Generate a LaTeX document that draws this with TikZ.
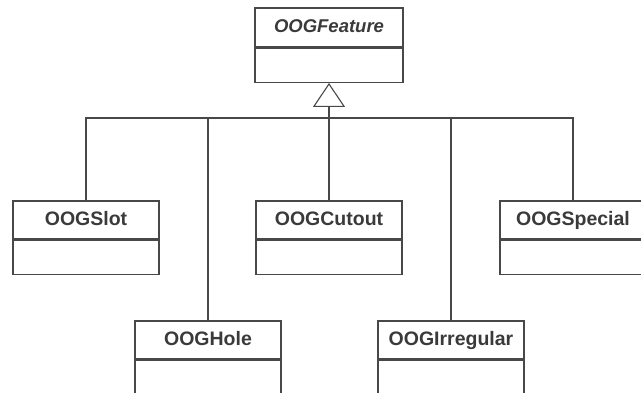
\documentclass[tikz,border=0pt]{standalone}
\usepackage{fontspec}
\setmainfont{Liberation Sans}
\usetikzlibrary{positioning,arrows.meta}
\definecolor{umlline}{HTML}{484848}
\definecolor{umltext}{HTML}{3A3A3A}

\tikzset{
  classname/.style={draw=umlline,line width=1.3pt,minimum width=146pt,minimum height=38pt,
    inner sep=0pt,text height=13.5pt,text depth=3pt,text=umltext,
    font=\fontsize{19.5}{21}\selectfont\bfseries},
  classbody/.style={draw=umlline,line width=1.3pt,minimum width=146pt,minimum height=34pt,inner sep=0pt},
  link/.style={draw=umlline,line width=1.1pt}
}

\begin{document}
\begin{tikzpicture}[x=1pt,y=-1pt]
        \useasboundingbox (0,0) rectangle (641,392);
        % abstract base class
        \node[classname,minimum width=148pt,minimum height=39pt,font=\fontsize{18.5}{20}\selectfont\bfseries\itshape] (feature) at (329,27.5) {OOGFeature};
        \node[classbody,minimum width=148pt,below=0pt of feature] (featurebody) {};
        % subclasses
        \node[classname] (slot) at (86,220) {OOGSlot};
        \node[classbody,below=0pt of slot] (slotbody) {};
        \node[classname] (cutout) at (329,220) {OOGCutout};
        \node[classbody,below=0pt of cutout] (cutoutbody) {};
        \node[classname] (special) at (573,220) {OOGSpecial};
        \node[classbody,below=0pt of special] (specialbody) {};
        \node[classname] (hole) at (208,340) {OOGHole};
        \node[classbody,below=0pt of hole] (holebody) {};
        \node[classname] (irregular) at (451,340) {OOGIrregular};
        \node[classbody,below=0pt of irregular] (irregularbody) {};
        % generalisation
        \coordinate (bus) at (329,118);
        \draw[link,-{Triangle[open,length=24pt,width=32pt]}] (bus) -- (featurebody.south);
        \foreach \cls in {slot,hole,cutout,irregular,special}
            \draw[link] (\cls.north) |- (bus);
\end{tikzpicture}
\end{document}
